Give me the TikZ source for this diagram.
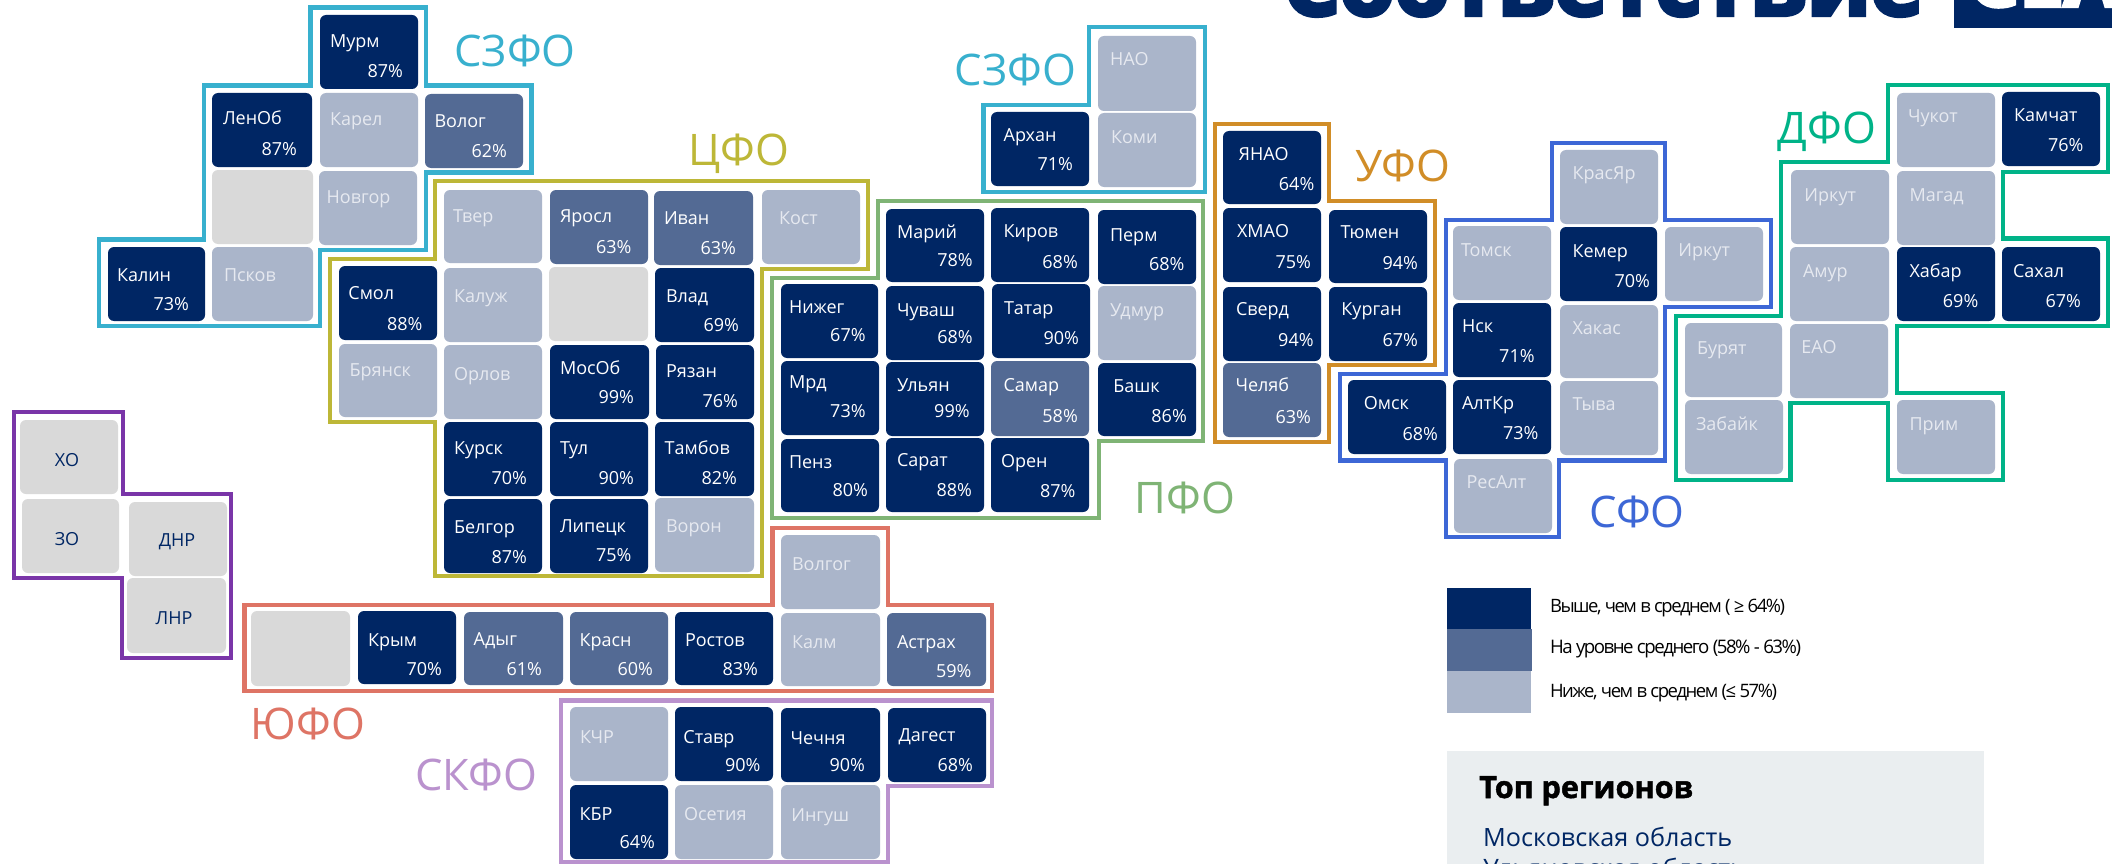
\documentclass[tikz,border=0pt]{standalone}
\usepackage{fontspec}
\setmainfont{Open Sans}[BoldFeatures={FakeBold=1.6}]
\newfontfamily\tightf{Open Sans}[LetterSpace=-8]
\newfontfamily\heavyf{Open Sans}[BoldFeatures={FakeBold=5}]
\definecolor{navy}{HTML}{002664}
\definecolor{midb}{HTML}{536A94}
\definecolor{lightb}{HTML}{AAB5CA}
\definecolor{grayt}{HTML}{D9D9D9}
\definecolor{lighttext}{HTML}{E6E9F0}
\definecolor{panel}{HTML}{EAEEF0}
\definecolor{cSZ}{HTML}{38B0CE}
\definecolor{cC}{HTML}{BDB737}
\definecolor{cP}{HTML}{7FB475}
\definecolor{cU}{HTML}{D18D27}
\definecolor{cS}{HTML}{3D67D6}
\definecolor{cD}{HTML}{00B388}
\definecolor{cY}{HTML}{DE7465}
\definecolor{cK}{HTML}{BA92CE}
\definecolor{cV}{HTML}{7A35A8}
\newcounter{tl}
\tikzset{
  tilebox/.style={rectangle,rounded corners=6pt,inner sep=0pt,outer sep=0pt,draw=none},
  hi/.style={tilebox,fill=navy},
  md/.style={tilebox,fill=midb},
  lo/.style={tilebox,fill=lightb},
  gr/.style={tilebox,fill=grayt},
  txthi/.style={text=white},
  txtmd/.style={text=white},
  txtlo/.style={text=lighttext},
  tname/.style={inner sep=0pt,outer sep=0pt,anchor=base west,font=\fontsize{18}{20}\selectfont},
  tpct/.style={inner sep=0pt,outer sep=0pt,anchor=base east,font=\fontsize{18}{20}\selectfont},
  gname/.style={inner sep=0pt,outer sep=0pt,text=navy,font=\fontsize{18}{20}\selectfont},
  border/.style={line width=4.6pt,line join=miter},
  reglabel/.style={inner sep=0pt,outer sep=0pt,anchor=base,font=\fontsize{43.5}{46}\selectfont},
  legendbox/.style={rectangle,inner sep=0pt,outer sep=0pt,draw=none},
  legendtext/.style={inner sep=0pt,outer sep=0pt,anchor=west,text=black,font=\tightf\fontsize{19}{21}\selectfont},
}
% x0 y0 x1 y1 kind name namepos pct pctpos
\newcommand{\tile}[9]{%
  \stepcounter{tl}%
  \node[#5,minimum width={(#3-#1)*1pt},minimum height={(#4-#2)*1pt}] (tile\thetl) at ({(#1+#3)/2},{(#2+#4)/2}) {};
  \node[tname,txt#5] (tile\thetl n) at (#7) {#6};
  \ifx\relax#8\relax\else
  \node[tpct,txt#5] (tile\thetl p) at (#9) {#8};
  \fi
}
\newcommand{\gtile}[4]{%
  \stepcounter{tl}%
  \node[gr,minimum width={(#3-#1)*1pt},minimum height={(#4-#2)*1pt}] (tile\thetl) at ({(#1+#3)/2},{(#2+#4)/2}) {};
}
\newcommand{\ctile}[7]{% x0 y0 x1 y1 text tx ty
  \stepcounter{tl}%
  \node[gr,minimum width={(#3-#1)*1pt},minimum height={(#4-#2)*1pt}] (tile\thetl) at ({(#1+#3)/2},{(#2+#4)/2}) {};
  \node[gname] (tile\thetl n) at (#6,#7) {#5};
}
\begin{document}
\begin{tikzpicture}[x=1pt,y=-1pt]
\useasboundingbox (0,0) rectangle (2112,864);
\clip (0,0) rectangle (2112,864);
\fill[white] (0,0) rectangle (2112,864);

% title
\node[inner sep=0pt,anchor=base west,text=navy] (title) at (1283,15)
  {\resizebox{640pt}{!}{\fontsize{80}{84}\heavyf\bfseries\selectfont Соответствие}};
\node[fill=navy,inner sep=0pt,minimum width=170pt,minimum height=58pt,anchor=south west] (tag) at (1954,28) {};
\node[inner sep=0pt,anchor=base west,text=white] (tagtext) at (1968,6)
  {\fontsize{80}{84}\heavyf\bfseries\selectfont СЕА};

% borders
\draw[border,cSZ] (310.5,7.7)--(426,7.7)--(426,85.4)--(531.5,85.4)--(531.5,172.4)--(426,172.4)--(426,250)--(320,250)--(320,326)--(99,326)--(99,239.4)--(204,239.4)--(204,85.4)--(310.5,85.4)--cycle;
\draw[border,cC] (435,181)--(868,181)--(868,269)--(762,269)--(762,576)--(435,576)--(435,422)--(330,422)--(330,259)--(435,259)--cycle;
\draw[border,cP] (878,201)--(1203,201)--(1203,441)--(1099,441)--(1099,518)--(772,518)--(772,278)--(878,278)--cycle;
\draw[border,cSZ] (1089,27)--(1205,27)--(1205,192)--(983.5,192)--(983.5,105)--(1089,105)--cycle;
\draw[border,cU] (1215,124)--(1329,124)--(1329,201)--(1435,201)--(1435,365)--(1329,365)--(1329,442)--(1215,442)--cycle;
\draw[border,cS] (1552,143)--(1665,143)--(1665,220)--(1771,220)--(1771,307)--(1665,307)--(1665,460.5)--(1559,460.5)--(1559,537)--(1446,537)--(1446,460.5)--(1340,460.5)--(1340,374)--(1446,374)--(1446,220)--(1552,220)--cycle;
\draw[border,cD] (1888,85)--(2108,85)--(2108,172)--(2003,172)--(2003,238.5)--(2108,238.5)--(2108,326)--(1897,326)--(1897,393)--(2003,393)--(2003,480)--(1888,480)--(1888,403)--(1790.5,403)--(1790.5,480)--(1676,480)--(1676,316)--(1781,316)--(1781,162)--(1888,162)--cycle;
\draw[border,cY] (772.5,528)--(888,528)--(888,605)--(992,605)--(992,691)--(244.5,691)--(244.5,605)--(772.5,605)--cycle;
\draw[border,cK] (561,700.5)--(992,700.5)--(992,786)--(888,786)--(888,862)--(561,862)--cycle;
\draw[border,cV] (14,412)--(123,412)--(123,494)--(231,494)--(231,658)--(122,658)--(122,578)--(14,578)--cycle;

% region labels
\node[reglabel,text=cSZ] (lSZa) at (515,67) {СЗФО};
\node[reglabel,text=cC] (lC) at (739,165) {ЦФО};
\node[reglabel,text=cSZ] (lSZb) at (1015.5,86) {СЗФО};
\node[reglabel,text=cU] (lU) at (1403,182) {УФО};
\node[reglabel,text=cD] (lD) at (1827,143) {ДФО};
\node[reglabel,text=cP] (lP) at (1185,513) {ПФО};
\node[reglabel,text=cS] (lS) at (1637,527) {СФО};
\node[reglabel,text=cY] (lY) at (308,739) {ЮФО};
\node[reglabel,text=cK] (lK) at (476,790) {СКФО};

% СЗФО
\tile{320}{15}{418}{89}{hi}{Мурм}{330,47.5}{87\%}{403,77.4}
\tile{212}{93}{312}{167}{hi}{ЛенОб}{223,125}{87\%}{297,155}
\tile{320}{93}{418}{167}{lo}{Карел}{330,126}{}{}
\tile{425}{94}{523}{168}{md}{Волог}{434.5,127.5}{62\%}{507,157.4}
\gtile{212}{170}{313}{244}
\tile{319}{171}{417}{245}{lo}{Новгор}{326.6,203.7}{}{}
\tile{108}{247}{205}{321}{hi}{Калин}{117,281.5}{73\%}{189,310.6}
\tile{212}{247}{313}{321}{lo}{Псков}{224,281.5}{}{}
% ЦФО
\tile{444}{190}{542}{263}{lo}{Твер}{453,222.9}{}{}
\tile{550}{190}{648}{264}{md}{Яросл}{560,222.9}{63\%}{631.4,253.5}
\tile{654}{191}{753}{265}{md}{Иван}{664,224.8}{63\%}{736,254.7}
\tile{762}{190}{860}{264}{lo}{Кост}{779,224.8}{}{}
\tile{339}{266}{437}{340}{hi}{Смол}{348.4,299.5}{88\%}{422.5,330}
\tile{444}{268}{542}{342}{lo}{Калуж}{454,302}{}{}
\gtile{549}{267}{648}{341}
\tile{655}{268}{754}{342}{hi}{Влад}{666,302}{69\%}{739,331.7}
\tile{339}{344}{437}{417}{lo}{Брянск}{349.6,376.5}{}{}
\tile{444}{345}{542}{419}{lo}{Орлов}{454,380}{}{}
\tile{550}{345}{649}{419}{hi}{МосОб}{560,374}{99\%}{634,403.7}
\tile{656}{345}{754}{419}{hi}{Рязан}{666,377.6}{76\%}{738,407.5}
\tile{444}{422}{542}{496}{hi}{Курск}{454,454.6}{70\%}{527,484.5}
\tile{550}{422}{648}{496}{hi}{Тул}{560,454.6}{90\%}{634,484.5}
\tile{655}{422}{754}{496}{hi}{Тамбов}{664.7,454.6}{82\%}{737,484.5}
\tile{444}{499}{542}{573}{hi}{Белгор}{454,533}{87\%}{527,563}
\tile{550}{499}{648}{573}{hi}{Липецк}{560,532.4}{75\%}{631.4,561.8}
\tile{655}{498}{754}{572}{lo}{Ворон}{666,532.4}{}{}
% ПФО
\tile{886}{209}{984}{282}{hi}{Марий}{897,238.5}{78\%}{972.7,266}
\tile{991}{208}{1089}{282}{hi}{Киров}{1003.6,237.8}{68\%}{1077.8,268}
\tile{1098}{210}{1196}{284}{hi}{Перм}{1110,241}{68\%}{1184.5,270.3}
\tile{781}{284}{878}{358}{hi}{Нижег}{789,313.3}{67\%}{865.6,341.6}
\tile{886}{286}{984}{360}{hi}{Чуваш}{897,316}{68\%}{972.7,343}
\tile{992}{284}{1090}{358}{hi}{Татар}{1004,314.6}{90\%}{1079,344.2}
\tile{1098}{286}{1196}{360}{lo}{Удмур}{1110,316.7}{}{}
\tile{781}{361}{879}{435}{hi}{Мрд}{789,388.7}{73\%}{865.6,417}
\tile{886}{362}{984}{436}{hi}{Ульян}{897,391.7}{99\%}{969.6,417.8}
\tile{991}{361}{1089}{436}{md}{Самар}{1003.6,391.7}{58\%}{1077.8,422}
\tile{1098}{363}{1196}{436}{hi}{Башк}{1113.3,392.4}{86\%}{1186.8,422}
\tile{781}{439}{879}{512}{hi}{Пенз}{789,468}{80\%}{868,496}
\tile{886}{438}{984}{512}{hi}{Сарат}{897,466}{88\%}{972,496}
\tile{991}{438}{1089}{512}{hi}{Орен}{1001,467.8}{87\%}{1075.5,497.4}
% СЗФО 2
\tile{1098}{36}{1196}{111}{lo}{НАО}{1110,66}{}{}
\tile{991}{112}{1089}{186}{hi}{Архан}{1003.6,141.8}{71\%}{1073,171}
\tile{1098}{113}{1196}{187}{lo}{Коми}{1111,143.6}{}{}
% УФО
\tile{1223}{131}{1321}{204}{hi}{ЯНАО}{1238.6,160.4}{64\%}{1314.3,190.4}
\tile{1223}{208}{1321}{282}{hi}{ХМАО}{1237,237.5}{75\%}{1311,268}
\tile{1329}{210}{1427}{283}{hi}{Тюмен}{1340.6,238.6}{94\%}{1418,269.6}
\tile{1223}{287}{1321}{361}{hi}{Сверд}{1236,315.7}{94\%}{1313.6,346.4}
\tile{1329}{287}{1427}{361}{hi}{Курган}{1341.4,315.7}{67\%}{1418,346.4}
\tile{1223}{363}{1321}{437}{md}{Челяб}{1235.5,391}{63\%}{1311,423}
% СФО
\tile{1560}{150}{1658}{224}{lo}{КрасЯр}{1572.5,179.6}{}{}
\tile{1453}{226}{1551}{300}{lo}{Томск}{1461,256.4}{}{}
\tile{1560}{227}{1657}{301}{hi}{Кемер}{1572.5,257.5}{70\%}{1650,287.5}
\tile{1665}{227}{1763}{301}{lo}{Иркут}{1678.4,256.8}{}{}
\tile{1453}{303}{1551}{377}{hi}{Нск}{1462,332.4}{71\%}{1534.6,362}
\tile{1560}{305}{1658}{378}{lo}{Хакас}{1572.5,334.6}{}{}
\tile{1348}{380}{1446}{454}{hi}{Омск}{1363.8,409.5}{68\%}{1438,440.3}
\tile{1453}{380}{1551}{454}{hi}{АлтКр}{1462,409.5}{73\%}{1538.5,439}
\tile{1560}{381}{1658}{455}{lo}{Тыва}{1572.5,410.3}{}{}
\tile{1454}{459}{1552}{533}{lo}{РесАлт}{1466.6,488.5}{}{}
% ДФО
\tile{1897}{93}{1995}{167}{lo}{Чукот}{1908,122.5}{}{}
\tile{2002}{92}{2100}{166}{hi}{Камчат}{2014,121.5}{76\%}{2083.5,151}
\tile{1791}{170}{1889}{244}{lo}{Иркут}{1804.4,201}{}{}
\tile{1897}{171}{1995}{245}{lo}{Магад}{1909.5,201}{}{}
\tile{1790}{247}{1889}{321}{lo}{Амур}{1803,277.8}{}{}
\tile{1897}{247}{1995}{321}{hi}{Хабар}{1909.5,277.8}{69\%}{1978.3,307.5}
\tile{2002}{247}{2100}{321}{hi}{Сахал}{2013,277.8}{67\%}{2081,307.5}
\tile{1685}{323}{1782}{397}{lo}{Бурят}{1697,354}{}{}
\tile{1790}{324}{1888}{398}{lo}{ЕАО}{1801.3,353}{}{}
\tile{1685}{400}{1783}{474}{lo}{Забайк}{1696,430.3}{}{}
\tile{1897}{400}{1995}{474}{lo}{Прим}{1909.5,430.3}{}{}
% ЮФО
\gtile{251}{611}{350}{686}
\tile{358}{611}{456}{684}{hi}{Крым}{368,646.4}{70\%}{442,675.3}
\tile{464}{612}{563}{685}{md}{Адыг}{473.7,645.7}{61\%}{542,675.3}
\tile{570}{612}{668}{685}{md}{Красн}{579.6,646.4}{60\%}{653,675.3}
\tile{675}{612}{773}{685}{hi}{Ростов}{685,646.4}{83\%}{758,675.3}
\tile{781}{535}{880}{609}{lo}{Волгог}{792,570.4}{}{}
\tile{781}{613}{880}{686}{lo}{Калм}{792,648.7}{}{}
\tile{887}{613}{986}{686}{md}{Астрах}{897,648.7}{59\%}{971.5,677}
% СКФО
\tile{570}{707}{668}{781}{lo}{КЧР}{580,743}{}{}
\tile{675}{707}{773}{781}{hi}{Ставр}{683.4,743}{90\%}{760.5,771.2}
\tile{781}{708}{880}{782}{hi}{Чечня}{790.6,744.3}{90\%}{865,771.9}
\tile{888}{708}{986}{782}{hi}{Дагест}{898.5,741.6}{68\%}{973,771.2}
\tile{570}{785}{668}{859}{hi}{КБР}{579.6,820.5}{64\%}{655,848.8}
\tile{675}{785}{773}{859}{lo}{Осетия}{684,820.5}{}{}
\tile{781}{785}{880}{859}{lo}{Ингуш}{791.3,821.2}{}{}
% grey
\ctile{20}{420}{118}{494}{ХО}{67}{460}
\ctile{22}{499}{119}{573}{ЗО}{67}{539}
\ctile{129}{502}{227}{576}{ДНР}{177}{542}
\ctile{127}{578}{226}{653}{ЛНР}{174}{618}

% legend
\node[legendbox,fill=navy,minimum width=84pt,minimum height=41pt,anchor=north west] (lg1) at (1447,588) {};
\node[legendbox,fill=midb,minimum width=85pt,minimum height=42pt,anchor=north west] (lg2) at (1447,629) {};
\node[legendbox,fill=lightb,minimum width=84pt,minimum height=42pt,anchor=north west] (lg3) at (1447,671) {};
\node[legendtext] (lgt1) at (1550,608) {\resizebox{235pt}{!}{Выше, чем в среднем ( ≥ 64\%)}};
\node[legendtext] (lgt2) at (1550,649) {\resizebox{251pt}{!}{На уровне среднего (58\% - 63\%)}};
\node[legendtext] (lgt3) at (1550,693) {\resizebox{227pt}{!}{Ниже, чем в среднем (≤ 57\%)}};

% panel
\node[legendbox,fill=panel,minimum width=537pt,minimum height=113pt,anchor=north west] (panelbox) at (1447,751) {};
\node[inner sep=0pt,anchor=base west,text=black] (ptitle) at (1479,798) {\resizebox{214pt}{!}{\fontsize{28}{32}\selectfont\bfseries Топ регионов}};
\node[inner sep=0pt,anchor=base west,text=navy] (p1) at (1483,846) {\resizebox{249pt}{!}{\fontsize{26}{30}\selectfont Московская область}};
\node[inner sep=0pt,anchor=base west,text=navy] (p2) at (1483,877) {\resizebox{262pt}{!}{\fontsize{26}{30}\selectfont Ульяновская область}};
\end{tikzpicture}
\end{document}
